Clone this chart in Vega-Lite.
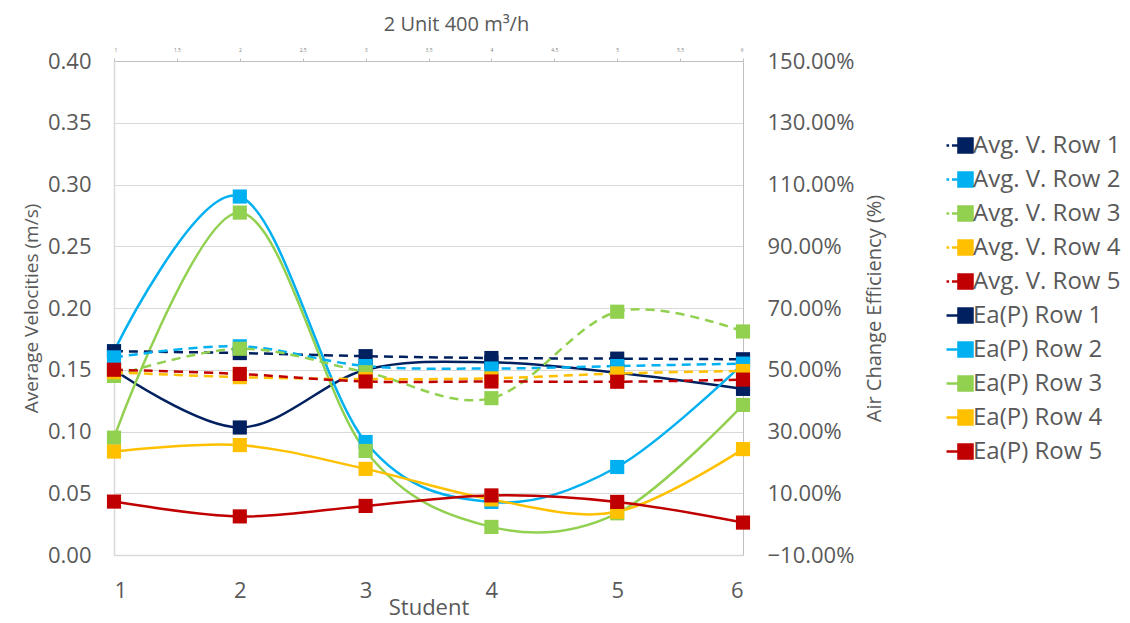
{
  "$schema": "https://vega.github.io/schema/vega-lite/v6.json",
  "width": 629,
  "height": 494,
  "autosize": {"type": "none"},
  "padding": {"left": 114, "top": 61, "right": 387, "bottom": 68},
  "background": "white",
  "config": {
    "view": {"stroke": null},
    "font": "Open Sans"
  },
  "title": {
    "text": "2 Unit 400 m³/h",
    "fontSize": 20,
    "font": "Open Sans",
    "fontWeight": "normal",
    "color": "#595959",
    "dx": 28,
    "offset": 12
  },
  "datasets": {
    "avg": [
      {"series": "Avg. V. Row 1", "student": 1, "value": 0.165},
      {"series": "Avg. V. Row 1", "student": 2, "value": 0.1635},
      {"series": "Avg. V. Row 1", "student": 3, "value": 0.161},
      {"series": "Avg. V. Row 1", "student": 4, "value": 0.1595},
      {"series": "Avg. V. Row 1", "student": 5, "value": 0.159},
      {"series": "Avg. V. Row 1", "student": 6, "value": 0.1585},
      {"series": "Avg. V. Row 2", "student": 1, "value": 0.160},
      {"series": "Avg. V. Row 2", "student": 2, "value": 0.169},
      {"series": "Avg. V. Row 2", "student": 3, "value": 0.153},
      {"series": "Avg. V. Row 2", "student": 4, "value": 0.151},
      {"series": "Avg. V. Row 2", "student": 5, "value": 0.153},
      {"series": "Avg. V. Row 2", "student": 6, "value": 0.155},
      {"series": "Avg. V. Row 3", "student": 1, "value": 0.145},
      {"series": "Avg. V. Row 3", "student": 2, "value": 0.167},
      {"series": "Avg. V. Row 3", "student": 3, "value": 0.148},
      {"series": "Avg. V. Row 3", "student": 4, "value": 0.127},
      {"series": "Avg. V. Row 3", "student": 5, "value": 0.197},
      {"series": "Avg. V. Row 3", "student": 6, "value": 0.181},
      {"series": "Avg. V. Row 4", "student": 1, "value": 0.148},
      {"series": "Avg. V. Row 4", "student": 2, "value": 0.144},
      {"series": "Avg. V. Row 4", "student": 3, "value": 0.1425},
      {"series": "Avg. V. Row 4", "student": 4, "value": 0.143},
      {"series": "Avg. V. Row 4", "student": 5, "value": 0.147},
      {"series": "Avg. V. Row 4", "student": 6, "value": 0.149},
      {"series": "Avg. V. Row 5", "student": 1, "value": 0.150},
      {"series": "Avg. V. Row 5", "student": 2, "value": 0.1466},
      {"series": "Avg. V. Row 5", "student": 3, "value": 0.1405},
      {"series": "Avg. V. Row 5", "student": 4, "value": 0.1405},
      {"series": "Avg. V. Row 5", "student": 5, "value": 0.1403},
      {"series": "Avg. V. Row 5", "student": 6, "value": 0.142}
    ],
    "ea": [
      {"series": "Ea(P) Row 1", "student": 1, "value": 0.50},
      {"series": "Ea(P) Row 1", "student": 2, "value": 0.313},
      {"series": "Ea(P) Row 1", "student": 3, "value": 0.50},
      {"series": "Ea(P) Row 1", "student": 4, "value": 0.524},
      {"series": "Ea(P) Row 1", "student": 5, "value": 0.49},
      {"series": "Ea(P) Row 1", "student": 6, "value": 0.438},
      {"series": "Ea(P) Row 2", "student": 1, "value": 0.56},
      {"series": "Ea(P) Row 2", "student": 2, "value": 1.061},
      {"series": "Ea(P) Row 2", "student": 3, "value": 0.266},
      {"series": "Ea(P) Row 2", "student": 4, "value": 0.072},
      {"series": "Ea(P) Row 2", "student": 5, "value": 0.185},
      {"series": "Ea(P) Row 2", "student": 6, "value": 0.52},
      {"series": "Ea(P) Row 3", "student": 1, "value": 0.28},
      {"series": "Ea(P) Row 3", "student": 2, "value": 1.009},
      {"series": "Ea(P) Row 3", "student": 3, "value": 0.237},
      {"series": "Ea(P) Row 3", "student": 4, "value": -0.009},
      {"series": "Ea(P) Row 3", "student": 5, "value": 0.035},
      {"series": "Ea(P) Row 3", "student": 6, "value": 0.386},
      {"series": "Ea(P) Row 4", "student": 1, "value": 0.235},
      {"series": "Ea(P) Row 4", "student": 2, "value": 0.256},
      {"series": "Ea(P) Row 4", "student": 3, "value": 0.179},
      {"series": "Ea(P) Row 4", "student": 4, "value": 0.08},
      {"series": "Ea(P) Row 4", "student": 5, "value": 0.04},
      {"series": "Ea(P) Row 4", "student": 6, "value": 0.243},
      {"series": "Ea(P) Row 5", "student": 1, "value": 0.073},
      {"series": "Ea(P) Row 5", "student": 2, "value": 0.025},
      {"series": "Ea(P) Row 5", "student": 3, "value": 0.059},
      {"series": "Ea(P) Row 5", "student": 4, "value": 0.093},
      {"series": "Ea(P) Row 5", "student": 5, "value": 0.072},
      {"series": "Ea(P) Row 5", "student": 6, "value": 0.005}
    ]
  },
  "layer": [
    {
      "data": {"name": "ea"},
      "encoding": {
        "x": {
          "field": "student", "type": "quantitative",
          "scale": {"domain": [1, 6], "nice": false, "zero": false},
          "axis": {
            "orient": "bottom", "values": [1, 2, 3, 4, 5, 6], "format": "d",
            "labelFontSize": 22, "labelColor": "#595959", "labelPadding": 25,
            "ticks": false, "domainColor": "#d9d9d9", "domainWidth": 1.5, "grid": false,
            "title": "Student", "titleFontSize": 22, "titleFontWeight": "normal",
            "titleColor": "#595959", "titlePadding": -4
          }
        },
        "y": {
          "field": "value", "type": "quantitative",
          "scale": {"domain": [-0.1, 1.5], "nice": false, "zero": false},
          "axis": {
            "orient": "right",
            "values": [-0.1, 0.1, 0.3, 0.5, 0.7, 0.9, 1.1, 1.3, 1.5],
            "format": ".2%", "labelFontSize": 22, "labelColor": "#595959",
            "labelPadding": 24, "ticks": false, "domainColor": "#bfbfbf",
            "grid": false, "title": "Air Change Efficiency (%)",
            "titleFontSize": 20, "titleFontWeight": "normal", "titleAngle": 270,
            "titleColor": "#595959", "titlePadding": 31
          }
        },
        "color": {
          "field": "series", "type": "nominal",
          "scale": {
            "domain": ["Avg. V. Row 1", "Avg. V. Row 2", "Avg. V. Row 3", "Avg. V. Row 4", "Avg. V. Row 5", "Ea(P) Row 1", "Ea(P) Row 2", "Ea(P) Row 3", "Ea(P) Row 4", "Ea(P) Row 5"],
            "range": ["#002060", "#00B0F0", "#92D050", "#FFC000", "#C00000", "#002060", "#00B0F0", "#92D050", "#FFC000", "#C00000"]
          },
          "legend": {
            "title": null, "orient": "none", "legendX": 831, "legendY": 70,
            "symbolType": "M-1,0H0M-0.08,-0.54H1V0.54H-0.08Z",
            "symbolSize": 676, "labelFontSize": 24, "labelColor": "#595959",
            "labelFont": "Open Sans", "labelOffset": -1, "rowPadding": 7,
            "encode": {
              "symbols": {
                "update": {
                  "shape": {"signal": "indexof(datum.value, 'Avg') === 0 ? 'M-1,0H-0.8M-0.58,0H-0.1M-0.08,-0.54H1V0.54H-0.08Z' : 'M-1,0H0M-0.08,-0.54H1V0.54H-0.08Z'"},
                  "fill": {"scale": "color", "field": "value"},
                  "stroke": {"scale": "color", "field": "value"},
                  "strokeWidth": {"value": 2.5},
                  "opacity": {"value": 1},
                  "strokeDash": {"value": [1, 0]}
                }
              }
            }
          }
        }
      },
      "layer": [
        {"mark": {"type": "line", "interpolate": "cardinal", "strokeWidth": 2.5}},
        {"mark": {"type": "point", "shape": "square", "filled": true, "size": 200, "opacity": 1, "strokeWidth": 0}}
      ]
    },
    {
      "data": {"name": "avg"},
      "encoding": {
        "x": {
          "field": "student", "type": "quantitative",
          "scale": {"domain": [1, 6], "nice": false, "zero": false},
          "axis": {
            "orient": "top", "values": [1, 1.5, 2, 2.5, 3, 3.5, 4, 4.5, 5, 5.5, 6],
            "format": "~g", "labelFontSize": 5, "labelColor": "#808080",
            "labelPadding": 6, "tickSize": 3, "tickColor": "#bfbfbf",
            "domainColor": "#bfbfbf", "grid": false, "title": null
          }
        },
        "y": {
          "field": "value", "type": "quantitative",
          "scale": {"domain": [0, 0.4], "nice": false, "zero": false},
          "axis": {
            "orient": "left",
            "values": [0, 0.05, 0.1, 0.15, 0.2, 0.25, 0.3, 0.35, 0.4],
            "format": ".2f", "labelFontSize": 22, "labelColor": "#595959",
            "labelPadding": 23, "ticks": false, "domainColor": "#d9d9d9",
            "domainWidth": 1.5,
            "grid": true, "gridColor": "#d9d9d9", "gridWidth": 1,
            "title": "Average Velocities (m/s)", "titleFontSize": 19,
            "titleFontWeight": "normal", "titleColor": "#595959", "titlePadding": 6
          }
        },
        "color": {
          "field": "series", "type": "nominal",
          "scale": {
            "domain": ["Avg. V. Row 1", "Avg. V. Row 2", "Avg. V. Row 3", "Avg. V. Row 4", "Avg. V. Row 5", "Ea(P) Row 1", "Ea(P) Row 2", "Ea(P) Row 3", "Ea(P) Row 4", "Ea(P) Row 5"],
            "range": ["#002060", "#00B0F0", "#92D050", "#FFC000", "#C00000", "#002060", "#00B0F0", "#92D050", "#FFC000", "#C00000"]
          }
        }
      },
      "layer": [
        {"mark": {"type": "line", "interpolate": "cardinal", "strokeWidth": 2.5, "strokeDash": [9, 6]}},
        {"mark": {"type": "point", "shape": "square", "filled": true, "size": 200, "opacity": 1, "strokeWidth": 0}}
      ]
    }
  ],
  "resolve": {"scale": {"y": "independent"}, "axis": {"x": "independent", "y": "independent"}}
}
